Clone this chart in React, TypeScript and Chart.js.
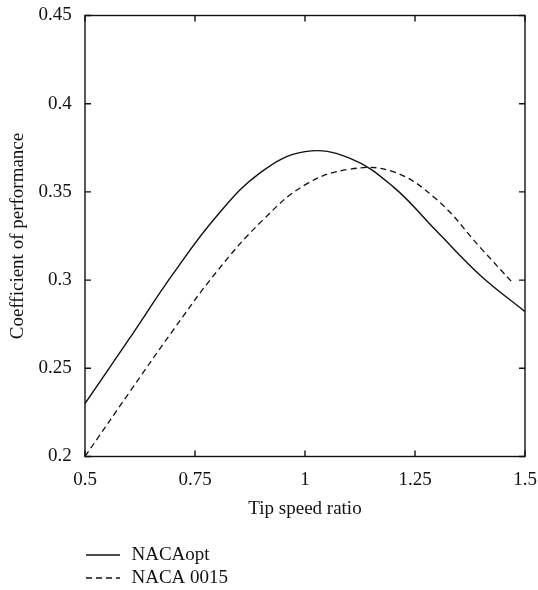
import React, { useEffect, useRef } from "react";
import { Chart, registerables } from "chart.js";

Chart.register(...registerables);

const optX = [0.5, 0.6, 0.7, 0.8, 0.9, 1.0, 1.1, 1.2, 1.3, 1.4, 1.5];
const optY = [0.23, 0.2665, 0.3035, 0.3365, 0.3612, 0.3728, 0.3693, 0.353, 0.3275, 0.3023, 0.2821];

const n15X = [0.5, 0.6, 0.7, 0.8, 0.9, 1.0, 1.1, 1.2, 1.3, 1.4, 1.473];
const n15Y = [0.2, 0.236, 0.2715, 0.305, 0.333, 0.354, 0.3628, 0.3615, 0.3455, 0.318, 0.2982];

const seriesNames = ["NACAopt", "NACA 0015"];
const xTicks = [0.5, 0.75, 1, 1.25, 1.5];
const yTicks = [0.2, 0.25, 0.3, 0.35, 0.4, 0.45];
const xTitle = "Tip speed ratio";
const yTitle = "Coefficient of performance";

const FONT = "'Liberation Serif', 'Times New Roman', serif";
const FS = 19;

export default function App() {
  const ref = useRef<HTMLCanvasElement>(null);
  useEffect(() => {
    document.body.style.margin = "0";
    const canvas = ref.current!;
    const frame = {
      id: "frame",
      afterDraw(chart: any) {
        const { ctx, chartArea: a, scales } = chart;
        ctx.save();
        ctx.strokeStyle = "#111";
        ctx.lineWidth = 1.4;
        ctx.strokeRect(a.left, a.top, a.right - a.left, a.bottom - a.top);
        const tl = 6;
        ctx.beginPath();
        xTicks.forEach((v) => {
          const px = scales.x.getPixelForValue(v);
          ctx.moveTo(px, a.bottom);
          ctx.lineTo(px, a.bottom - tl);
          ctx.moveTo(px, a.top);
          ctx.lineTo(px, a.top + tl);
        });
        yTicks.forEach((v) => {
          const py = scales.y.getPixelForValue(v);
          ctx.moveTo(a.left, py);
          ctx.lineTo(a.left + tl, py);
          ctx.moveTo(a.right, py);
          ctx.lineTo(a.right - tl, py);
        });
        ctx.stroke();
        // legend
        const rows = [a.bottom + 98.5, a.bottom + 121.5];
        ctx.font = `${FS}px ${FONT}`;
        ctx.fillStyle = "#111";
        ctx.textBaseline = "middle";
        ctx.textAlign = "left";
        rows.forEach((y, i) => {
          ctx.beginPath();
          ctx.lineWidth = 1.3;
          ctx.setLineDash(i === 0 ? [] : [6, 4]);
          ctx.moveTo(86, y);
          ctx.lineTo(120, y);
          ctx.stroke();
          ctx.setLineDash([]);
          ctx.fillText(seriesNames[i], 131.5, y);
        });
        ctx.restore();
      },
    };
    const chart = new Chart(canvas, {
      type: "line",
      data: {
        datasets: [
          {
            label: seriesNames[0],
            data: optX.map((x, i) => ({ x, y: optY[i] })),
            borderColor: "#111",
            borderWidth: 1.4,
            pointRadius: 0,
            tension: 0.4,
            fill: false,
          },
          {
            label: seriesNames[1],
            data: n15X.map((x, i) => ({ x, y: n15Y[i] })),
            borderColor: "#111",
            borderWidth: 1.3,
            borderDash: [6, 4],
            pointRadius: 0,
            tension: 0.4,
            fill: false,
          },
        ],
      },
      options: {
        animation: false,
        responsive: false,
        layout: { padding: { top: 15.5, right: 13, left: 0, bottom: 0 } },
        plugins: { legend: { display: false }, tooltip: { enabled: false } },
        scales: {
          x: {
            type: "linear",
            min: 0.5,
            max: 1.5,
            afterBuildTicks: (s: any) => {
              s.ticks = xTicks.map((v) => ({ value: v }));
            },
            afterFit: (s: any) => {
              s.height = 133.5;
              s.paddingLeft = 0;
              s.paddingRight = 0;
            },
            grid: { display: false, drawTicks: false },
            border: { display: false },
            ticks: {
              padding: 12.3,
              color: "#111",
              font: { family: FONT, size: FS },
              callback: (v: any) => String(v),
            },
            title: {
              display: true,
              text: xTitle,
              color: "#111",
              font: { family: FONT, size: FS },
              padding: { top: 0, bottom: 69.6 },
            },
          },
          y: {
            type: "linear",
            min: 0.2,
            max: 0.45,
            afterBuildTicks: (s: any) => {
              s.ticks = yTicks.map((v) => ({ value: v }));
            },
            afterFit: (s: any) => {
              s.width = 85;
              s.paddingTop = 0;
              s.paddingBottom = 0;
            },
            grid: { display: false, drawTicks: false },
            border: { display: false },
            ticks: {
              padding: 13.3,
              color: "#111",
              font: { family: FONT, size: FS },
              callback: (v: any) => String(Math.round(v * 100) / 100),
            },
            title: {
              display: true,
              text: yTitle,
              color: "#111",
              font: { family: FONT, size: FS },
              padding: { top: 6.6, bottom: 0 },
            },
          },
        },
      },
      plugins: [frame],
    } as any);
    return () => chart.destroy();
  }, []);
  return <canvas ref={ref} width={538} height={590} style={{ display: "block" }} />;
}
